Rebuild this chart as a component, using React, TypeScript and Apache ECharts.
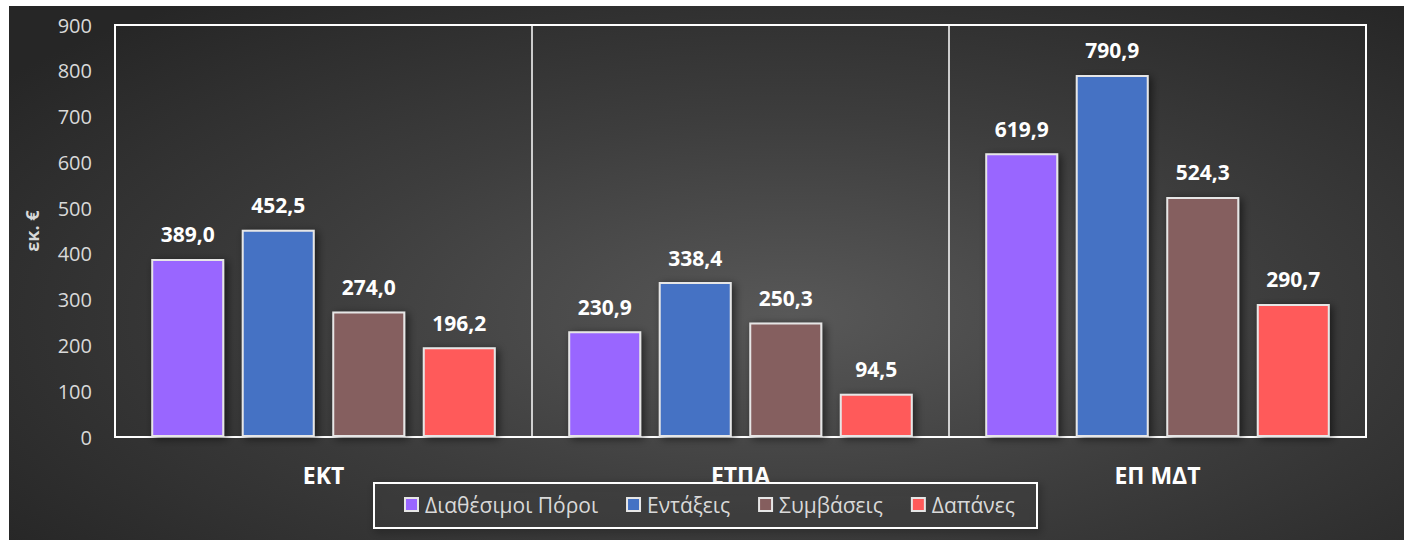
import React, { useEffect, useRef } from "react";
import * as echarts from "echarts";

const categories = ["ΕΚΤ", "ΕΤΠΑ", "ΕΠ ΜΔΤ"];
const seriesNames = ["Διαθέσιμοι Πόροι", "Εντάξεις", "Συμβάσεις", "Δαπάνες"];
const diathesimoi = [389.0, 230.9, 619.9];
const entakseis = [452.5, 338.4, 790.9];
const symvaseis = [274.0, 250.3, 524.3];
const dapanes = [196.2, 94.5, 290.7];
const seriesColors = ["#9966ff", "#4472c4", "#855e5e", "#ff5a5a"];
const yAxisName = "εκ. €";

const FONT = "'Open Sans', 'Noto Sans', sans-serif";

export default function App() {
  const ref = useRef<HTMLDivElement>(null);
  useEffect(() => {
    if (!ref.current) return;
    const chart = echarts.init(ref.current, undefined, { renderer: "svg" });
    const values = [diathesimoi, entakseis, symvaseis, dapanes];
    chart.setOption({
      animation: false,
      backgroundColor: "transparent",
      textStyle: { fontFamily: FONT },
      grid: {
        left: 106,
        top: 19,
        right: 38,
        bottom: 103,
        show: true,
        borderColor: "#ffffff",
        borderWidth: 2,
        containLabel: false,
      },
      graphic: [
        {
          type: "rect",
          left: 364,
          top: 476,
          shape: { width: 663, height: 45 },
          style: {
            fill: "rgba(70,70,70,0.3)",
            stroke: "#ffffff",
            lineWidth: 2,
            shadowBlur: 8,
            shadowColor: "rgba(0,0,0,0.5)",
            shadowOffsetX: 2,
            shadowOffsetY: 3,
          },
          z: 10,
        },
      ],
      legend: {
        data: seriesNames,
        left: 395,
        top: 488,
        padding: 0,
        itemWidth: 13,
        itemHeight: 13,
        itemGap: 28,
        icon: "rect",
        z: 20,
        textStyle: { color: "#d9d9d9", fontSize: 21, fontFamily: FONT, padding: [0, 0, 0, 2] },
      },
      xAxis: {
        type: "category",
        data: categories,
        axisTick: { show: false },
        axisLine: { show: true, lineStyle: { color: "#ffffff", width: 2 } },
        splitLine: { show: true, interval: 0, lineStyle: { color: "#ffffff", width: 1.5 } },
        axisLabel: {
          color: "#ffffff",
          fontWeight: "bold",
          fontSize: 23,
          margin: 26,
          fontFamily: FONT,
        },
      },
      yAxis: {
        type: "value",
        min: 0,
        max: 900,
        interval: 100,
        name: yAxisName,
        nameLocation: "middle",
        nameGap: 74,
        nameRotate: 90,
        nameTextStyle: { color: "#d9d9d9", fontWeight: "bold", fontSize: 18, fontFamily: FONT },
        axisLine: { show: false },
        axisTick: { show: false },
        splitLine: { show: false },
        axisLabel: { color: "#d9d9d9", fontSize: 20, margin: 23, fontFamily: FONT },
      },
      series: seriesNames.map((name, i) => ({
        name,
        type: "bar",
        data: values[i],
        barWidth: 73,
        barGap: "24%",
        itemStyle: {
          color: seriesColors[i],
          borderColor: "#e6e6e6",
          borderWidth: 2,
          shadowBlur: 8,
          shadowColor: "rgba(0,0,0,0.55)",
          shadowOffsetX: 3,
          shadowOffsetY: 2,
        },
        label: {
          show: true,
          position: "top",
          distance: 14,
          color: "#ffffff",
          fontWeight: "bold",
          fontSize: 21,
          fontFamily: FONT,
          formatter: (p: any) => Number(p.value).toFixed(1).replace(".", ","),
        },
      })),
    });
    return () => chart.dispose();
  }, []);
  return (
    <div
      style={{
        position: "absolute",
        left: 9,
        top: 6,
        width: 1395,
        height: 534,
        background: "radial-gradient(ellipse 70% 75% at 56% 58%, #585858 0%, #3d3d3d 50%, #262626 100%)",
      }}
    >
      <div ref={ref} style={{ width: 1395, height: 534 }} />
    </div>
  );
}
